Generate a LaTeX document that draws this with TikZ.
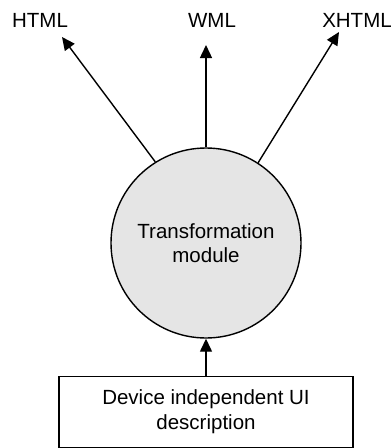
\documentclass[tikz,border=0pt]{standalone}
\usepackage{fontspec}
\setmainfont{Liberation Sans}
\usetikzlibrary{arrows.meta}
\tikzset{
  lbl/.style={font=\fontsize{20.5}{24}\selectfont, inner sep=0pt},
  arr/.style={line width=1.4pt, -{Triangle[length=13pt,width=12pt]}},
  modnode/.style={circle, draw, line width=1.4pt, fill=black!10, minimum size=190pt, align=center, font=\fontsize{20.5}{24}\selectfont},
  descbox/.style={rectangle, draw, line width=1.4pt, minimum width=294pt, minimum height=71pt, align=center, font=\fontsize{20.5}{25}\selectfont}
}
\begin{document}
\begin{tikzpicture}[x=1pt,y=-1pt]
\useasboundingbox (0,0) rectangle (391,448);
\node[modnode] (tm) at (206,243) {Transformation\\module};
\node[descbox] (desc) at (206,412) {Device independent UI\\description};
\node[lbl, anchor=base] (html) at (40,27) {HTML};
\node[lbl, anchor=base] (wml) at (212,27) {WML};
\node[lbl, anchor=base] (xhtml) at (357,27) {XHTML};
\coordinate (thtml) at (62,37);
\coordinate (twml) at (206,45);
\coordinate (txhtml) at (339,32);
\draw[arr] (tm.122.5) -- (thtml);
\draw[arr] (tm.north) -- (twml);
\draw[arr] (tm.57.5) -- (txhtml);
\draw[arr] (desc.north) -- (tm.south);
\end{tikzpicture}
\end{document}
